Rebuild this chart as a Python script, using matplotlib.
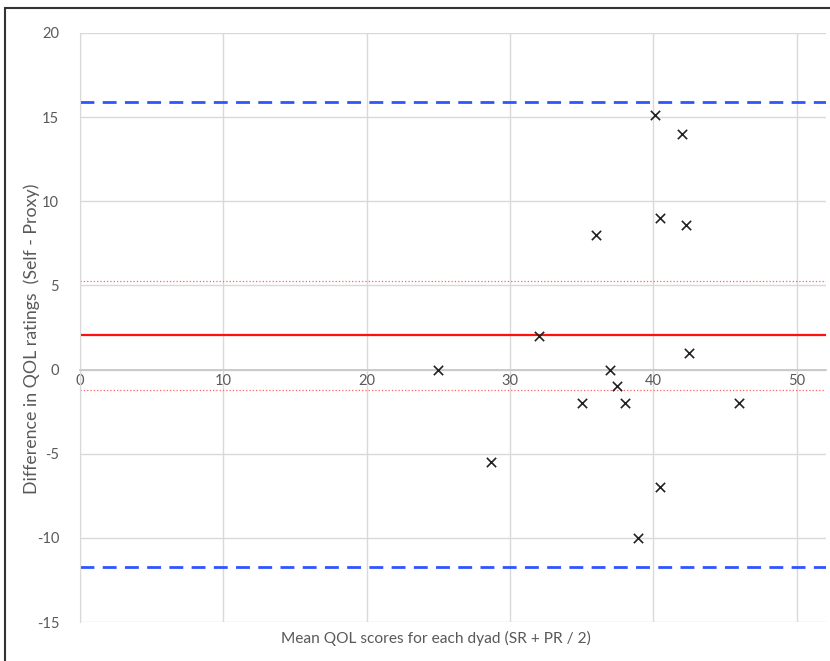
import numpy as np
import matplotlib
matplotlib.use('Agg')
from matplotlib import pyplot as plt
from matplotlib.patches import Rectangle

# mean of self and proxy ratings, and their difference
mean_scores = [25.0, 28.7, 32.0, 35.0, 36.0, 37.0, 37.5, 38.0, 38.9, 40.1,
               40.5, 40.5, 42.0, 42.3, 42.5, 46.0]
differences = [0.0, -5.5, 2.0, -2.0, 8.0, 0.0, -1.0, -2.0, -10.0, 15.1,
               9.0, -7.0, 14.0, 8.6, 1.0, -2.0]

mean_diff = 2.05
ci_upper = 5.25
ci_lower = -1.2
loa_upper = 15.9
loa_lower = -11.75

x_ticks = [0, 10, 20, 30, 40, 50]
y_ticks = [-15, -10, -5, 0, 5, 10, 15, 20]

grey_text = '#595959'
grid_col = '#d9d9d9'

plt.rcParams['font.family'] = ['Lato', 'DejaVu Sans']
plt.rcParams['axes.unicode_minus'] = False

fig = plt.figure(figsize=(8.3, 6.61), dpi=100)
ax = fig.add_axes([80 / 830, 1 - 622 / 661, 746 / 830, 589 / 661])

ax.set_xlim(0, 52.05)
ax.set_ylim(-15, 20)
ax.set_xticks(x_ticks)
ax.set_yticks(y_ticks)
ax.grid(True, color=grid_col, linewidth=1)
ax.set_axisbelow(True)

for s in ['top', 'right']:
    ax.spines[s].set_visible(False)
ax.spines['left'].set_color(grid_col)
ax.spines['bottom'].set_position(('data', 0))
ax.spines['bottom'].set_color('#c8c8c8')
ax.spines['bottom'].set_linewidth(1.3)
ax.tick_params(axis='both', length=0, labelsize=10.5, labelcolor=grey_text)
ax.tick_params(axis='y', pad=15)
ax.tick_params(axis='x', pad=3)

ax.axhline(loa_upper, color='#2f55ff', linewidth=2, linestyle=(0, (5, 3)))
ax.axhline(loa_lower, color='#2f55ff', linewidth=2, linestyle=(0, (5, 3)))
ax.axhline(mean_diff, color='#ff1010', linewidth=1.6)
ax.axhline(ci_upper, color='#ff6060', linewidth=0.9, linestyle=':')
ax.axhline(ci_lower, color='#ff6060', linewidth=0.9, linestyle=':')

ax.scatter(mean_scores, differences, marker='x', color='#222222', s=45,
           linewidths=1.2, zorder=5)

ax.set_xlabel("Mean QOL scores for each dyad (SR + PR / 2)", fontsize=11.2,
              color=grey_text)
ax.xaxis.set_label_coords(0.477, -0.015)
ax.set_ylabel("Difference in QOL ratings  (Self - Proxy)", fontsize=12.8,
              color=grey_text, va='center')
ax.yaxis.set_label_coords(-0.065, 0.48)

# outer frame
fig.patches.append(Rectangle((5 / 830, -0.1), 1.2, 1 - 8 / 661 + 0.1,
                             transform=fig.transFigure, fill=False,
                             edgecolor='#333333', linewidth=1.5))

fig.savefig('out.png', dpi=100)
